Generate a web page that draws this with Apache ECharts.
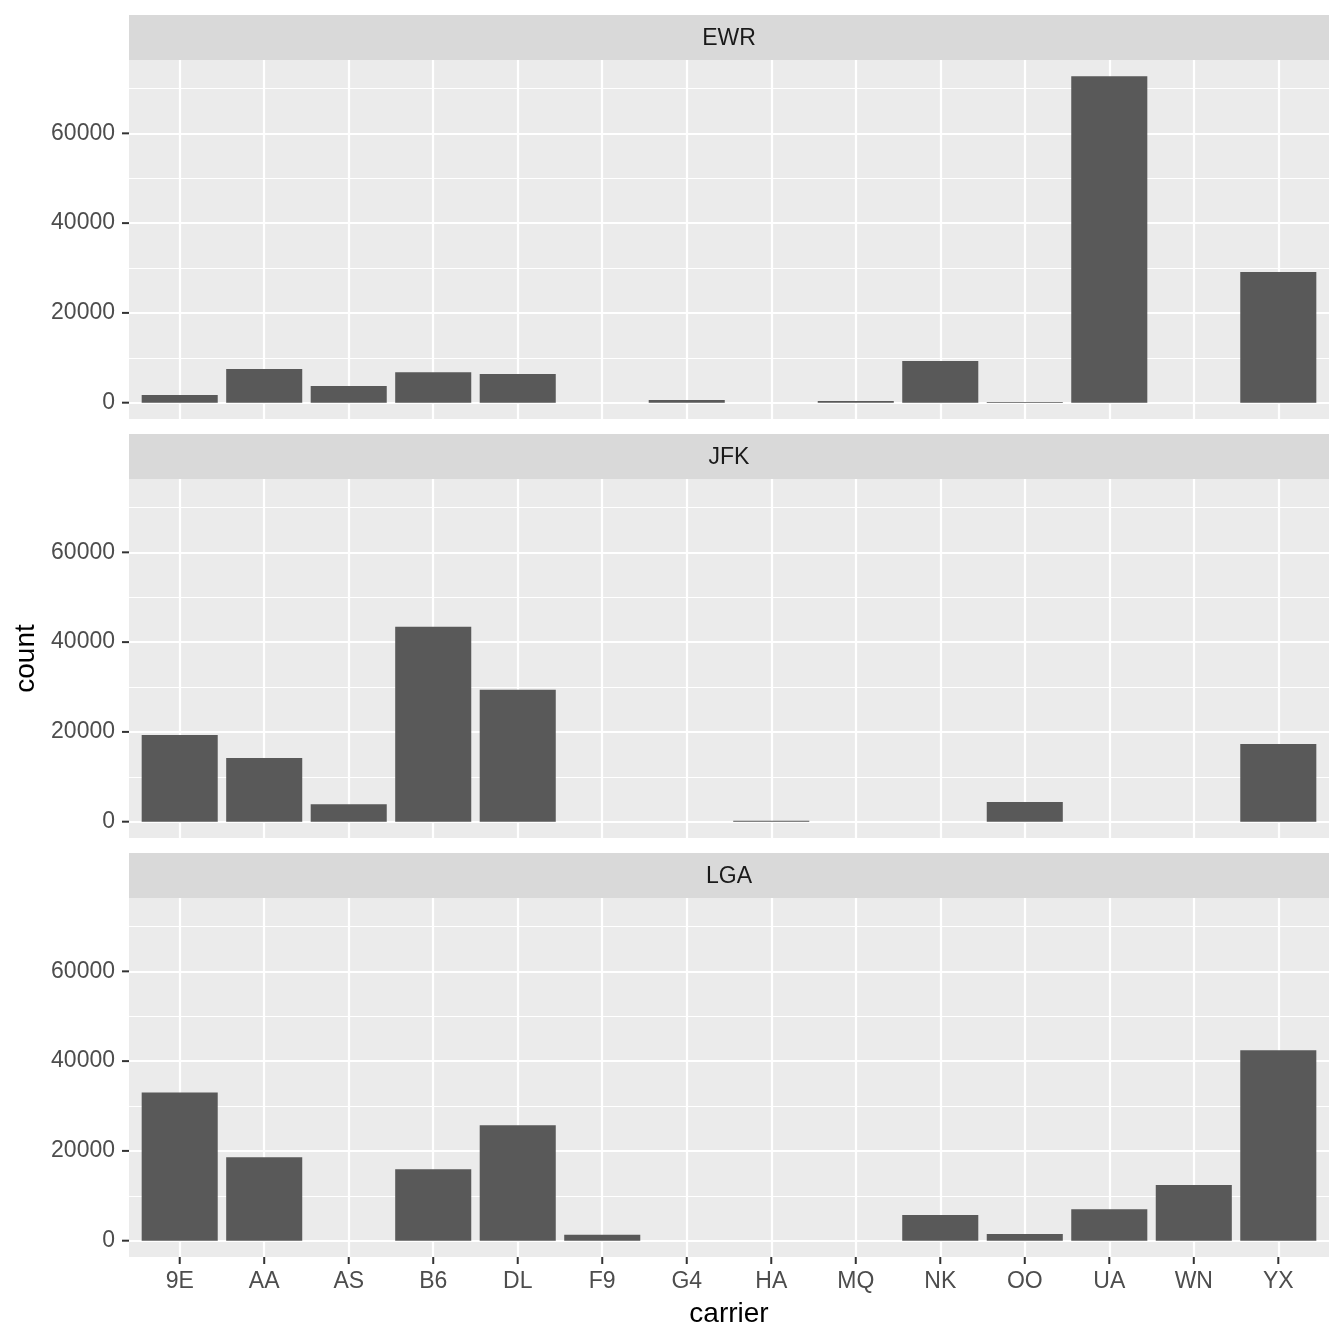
<!DOCTYPE html>
<html>
<head>
<meta charset="utf-8">
<script src="https://cdn.jsdelivr.net/npm/echarts@6/dist/echarts.min.js"></script>
<style>
  html, body { margin: 0; padding: 0; background: #fff; }
  #chart { width: 1344px; height: 1344px; }
</style>
</head>
<body>
<div id="chart"></div>
<script>
// flights per carrier, faceted by origin airport
const carriers = ['9E', 'AA', 'AS', 'B6', 'DL', 'F9', 'G4', 'HA', 'MQ', 'NK', 'OO', 'UA', 'WN', 'YX'];
const origins = ['EWR', 'JFK', 'LGA'];
const ewrCounts = [1700, 7500, 3700, 6800, 6400, 0, 600, 0, 400, 9300, 150, 72700, 0, 29100];
const jfkCounts = [19300, 14200, 3900, 43400, 29400, 0, 0, 200, 0, 0, 4400, 0, 0, 17300];
const lgaCounts = [33000, 18600, 0, 15900, 25700, 1300, 0, 0, 0, 5700, 1500, 7000, 12400, 42400];
const yTicks = [0, 20000, 40000, 60000];
const yMinor = [10000, 30000, 50000, 70000];

const counts = [ewrCounts, jfkCounts, lgaCounts];
const font = "'Liberation Sans', Arial, sans-serif";

// ggplot style expansion: 5% on continuous, 0.6 on discrete
const maxVal = Math.max(...ewrCounts, ...jfkCounts, ...lgaCounts);
const yMin = -0.05 * maxVal, yMax = maxVal * 1.05;
const xIdx = carriers.map((c, i) => i);

const panelLeft = 129, panelWidth = 1200, stripH = 45, panelH = 359, period = 419, top0 = 15;

let chart = echarts.init(document.getElementById('chart'));

const grids = [], xAxes = [], yAxes = [], series = [], graphics = [];

origins.forEach((name, p) => {
    const stripTop = top0 + p * period;
    const isLast = p === origins.length - 1;
    grids.push({
        left: panelLeft, top: stripTop + stripH, width: panelWidth, height: panelH,
        show: true, backgroundColor: '#EBEBEB', borderWidth: 0, containLabel: false
    });
    xAxes.push({
        type: 'value', gridIndex: p, min: -0.6, max: carriers.length - 1 + 0.6,
        axisLine: {show: false},
        splitLine: {show: false},
        axisTick: {show: false},
        axisLabel: {
            show: isLast, customValues: xIdx, margin: 13,
            formatter: v => carriers[Math.round(v)],
            color: '#4D4D4D', fontSize: 23, fontFamily: font
        },
        name: isLast ? 'carrier' : '', nameLocation: 'middle', nameGap: 43,
        nameTextStyle: {color: '#000', fontSize: 28, fontFamily: font}
    });
    yAxes.push({
        type: 'value', gridIndex: p, min: yMin, max: yMax,
        axisLine: {show: false},
        splitLine: {show: false},
        axisTick: {show: false},
        axisLabel: {
            customValues: yTicks, margin: 14, formatter: v => String(v),
            color: '#4D4D4D', fontSize: 23, fontFamily: font
        },
        name: p === 1 ? 'count' : '', nameLocation: 'middle', nameGap: 88, nameRotate: 90,
        nameTextStyle: {color: '#000', fontSize: 28, fontFamily: font}
    });

    const gridLines = [];
    yMinor.forEach(v => gridLines.push({yAxis: v, lineStyle: {width: 1.1}}));
    yTicks.forEach(v => gridLines.push({yAxis: v, lineStyle: {width: 2.2}}));
    xIdx.forEach(v => gridLines.push({xAxis: v, lineStyle: {width: 2.2}}));

    series.push({
        type: 'bar', name: name, xAxisIndex: p, yAxisIndex: p,
        barWidth: panelWidth / (carriers.length + 0.2) * 0.9,
        itemStyle: {color: '#595959'},
        data: counts[p].map((v, i) => [i, v]).filter(d => d[1] > 0),
        silent: true,
        markLine: {
            silent: true, z: 1, symbol: ['none', 'none'],
            label: {show: false},
            lineStyle: {color: '#FFFFFF', type: 'solid'},
            emphasis: {disabled: true},
            data: gridLines
        }
    });

    // axis tick marks, drawn just outside the panel through the axis scales
    const tickData = yTicks.map(v => [-0.6, v, 'y']);
    if (isLast) xIdx.forEach(i => tickData.push([i, yMin, 'x']));
    series.push({
        type: 'custom', xAxisIndex: p, yAxisIndex: p, clip: false, silent: true, z: 3,
        data: tickData,
        renderItem: (params, api) => {
            const pt = api.coord([api.value(0), api.value(1)]);
            const horiz = api.value(2) === 'y';
            return {
                type: 'line',
                shape: horiz
                    ? {x1: pt[0] - 7, y1: pt[1], x2: pt[0], y2: pt[1]}
                    : {x1: pt[0], y1: pt[1], x2: pt[0], y2: pt[1] + 7},
                style: {stroke: '#333333', lineWidth: 2}
            };
        }
    });

    graphics.push({
        type: 'rect', left: panelLeft, top: stripTop,
        shape: {width: panelWidth, height: stripH},
        style: {fill: '#D9D9D9'}, silent: true
    });
    graphics.push({
        type: 'text', x: panelLeft + panelWidth / 2, y: stripTop + stripH / 2 + 1,
        style: {text: name, fill: '#1A1A1A', font: '23px ' + font, textAlign: 'center', textVerticalAlign: 'middle'},
        silent: true
    });
});

chart.setOption({
    animation: false,
    backgroundColor: '#FFFFFF',
    grid: grids,
    xAxis: xAxes,
    yAxis: yAxes,
    series: series,
    graphic: graphics
});
</script>
</body>
</html>
